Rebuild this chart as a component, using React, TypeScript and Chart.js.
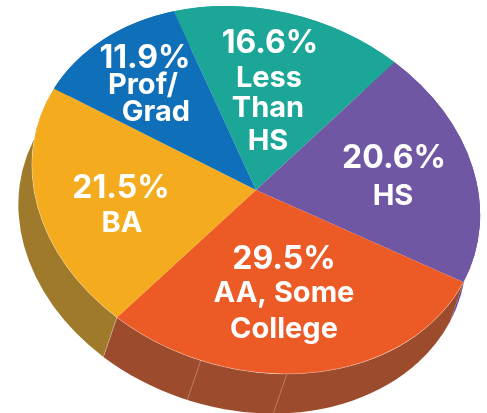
import React, { useEffect, useRef } from "react";
import { Chart, registerables } from "chart.js";

Chart.register(...registerables);

const categories = ["Less Than HS", "HS", "AA, Some College", "BA", "Prof/Grad"];
const shares = [16.6, 20.6, 29.5, 21.5, 11.9];
const wrappedNames = [["Less", "Than", "HS"], ["HS"], ["AA, Some", "College"], ["BA"], ["Prof/", "Grad"]];
const topColors = ["#1CA698", "#7057A3", "#EC5A26", "#F4AB1E", "#0F6FB9"];
const sideColors = ["#1CA698", "#6A52A0", "#9C4C2D", "#A07A2B", "#0F6FB9"];
const sideSeamFractions = [0.564, 0.773];

// Page layout of the labels: [x, baselines of each line], one per slice
const labelLayout: [number, number[]][] = [
  [269, [53, 87, 117, 150]],
  [393, [168, 205]],
  [284, [269, 302, 338]],
  [121, [198, 232]],
  [149, [68, 94, 121]],
];
const labelNudgeX = [[1, 0, -1, -1], [1, 0], [0, 0, 0], [0, 1], [-4, -6, 7]];

// The tilted, rotated top face and the thickness of the disc
const TILT = { cx: 256, cy: 190, a: 228, b: 179.2, angle: (17.2 * Math.PI) / 180, dx: -13.5, dy: 39.5 };

function applyTilt(ctx: CanvasRenderingContext2D, arc: any, base: DOMMatrix, shift: number) {
  const s = arc.outerRadius;
  ctx.setTransform(base);
  ctx.translate(TILT.cx + TILT.dx * shift, TILT.cy + TILT.dy * shift);
  ctx.rotate(TILT.angle);
  ctx.scale(TILT.a / s, TILT.b / s);
  ctx.translate(-arc.x, -arc.y);
}

const tiltedPie = {
  id: "tiltedPie",
  beforeDatasetsDraw(chart: any) {
    const ctx: CanvasRenderingContext2D = chart.ctx;
    const arcs = chart.getDatasetMeta(0).data;
    ctx.save();
    const base = ctx.getTransform();
    arcs.forEach((arc: any, i: number) => {
      ctx.beginPath();
      applyTilt(ctx, arc, base, 0);
      ctx.arc(arc.x, arc.y, arc.outerRadius, arc.startAngle, arc.endAngle);
      applyTilt(ctx, arc, base, 1);
      ctx.arc(arc.x, arc.y, arc.outerRadius, arc.endAngle, arc.startAngle, true);
      ctx.closePath();
      ctx.setTransform(base);
      ctx.fillStyle = sideColors[i];
      ctx.fill();
    });
    // Pale seams on the visible side wall
    const orange = arcs[2];
    const seamAngles = [
      ...sideSeamFractions.map((f) => orange.startAngle + f * (orange.endAngle - orange.startAngle)),
      orange.endAngle,
    ];
    seamAngles.forEach((t) => {
      const px = orange.x + orange.outerRadius * Math.cos(t);
      const py = orange.y + orange.outerRadius * Math.sin(t);
      ctx.beginPath();
      applyTilt(ctx, orange, base, 0);
      ctx.moveTo(px, py);
      applyTilt(ctx, orange, base, 1);
      ctx.lineTo(px, py);
      ctx.setTransform(base);
      ctx.strokeStyle = "rgba(255,255,255,0.35)";
      ctx.lineWidth = 0.8;
      ctx.stroke();
    });
    applyTilt(ctx, arcs[0], base, 0);
  },
  afterDatasetsDraw(chart: any) {
    const ctx: CanvasRenderingContext2D = chart.ctx;
    const arcs = chart.getDatasetMeta(0).data;
    ctx.restore();
    ctx.save();
    const base = ctx.getTransform();
    [2, 3].forEach((i) => {
      const arc = arcs[i];
      ctx.beginPath();
      applyTilt(ctx, arc, base, 0);
      ctx.arc(arc.x, arc.y, arc.outerRadius, arc.startAngle, arc.endAngle);
      ctx.setTransform(base);
      ctx.strokeStyle = "rgba(255,255,255,0.4)";
      ctx.lineWidth = 0.7;
      ctx.stroke();
    });
    ctx.restore();
  },
  afterDraw(chart: any) {
    const ctx: CanvasRenderingContext2D = chart.ctx;
    ctx.save();
    ctx.fillStyle = "#FFFFFF";
    ctx.textAlign = "center";
    ctx.textBaseline = "alphabetic";
    shares.forEach((v, i) => {
      const [x, baselines] = labelLayout[i];
      const lines = [`${v.toFixed(1)}%`, ...wrappedNames[i]];
      lines.forEach((line, j) => {
        ctx.font = j === 0 ? "700 32px Inter" : "700 29px Inter";
        ctx.fillText(line, x + labelNudgeX[i][j], baselines[j]);
      });
    });
    ctx.restore();
  },
};

export default function App() {
  const ref = useRef<HTMLCanvasElement>(null);
  useEffect(() => {
    const chart = new Chart(ref.current!, {
      type: "pie",
      data: {
        labels: categories,
        datasets: [{ data: shares, backgroundColor: topColors, borderWidth: 0, clip: false } as any],
      },
      options: {
        animation: false,
        responsive: false,
        rotation: 324.8,
        events: [],
        plugins: { legend: { display: false }, tooltip: { enabled: false } },
      },
      plugins: [tiltedPie],
    });
    return () => chart.destroy();
  }, []);
  return (
    <div style={{ position: "absolute", left: 0, top: 0, width: 487, height: 413, overflow: "hidden", background: "#fff" }}>
      <canvas ref={ref} width={487} height={413} style={{ display: "block" }} />
    </div>
  );
}
